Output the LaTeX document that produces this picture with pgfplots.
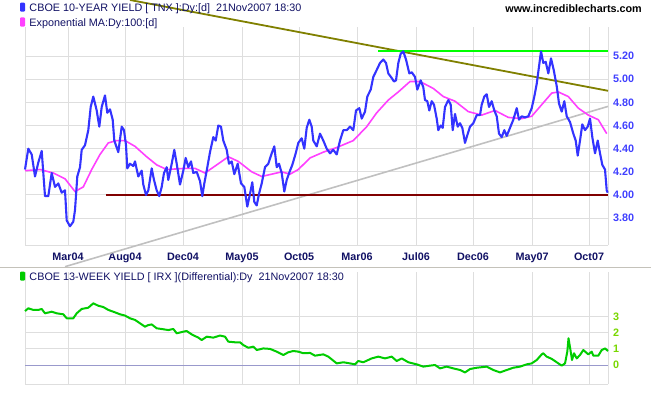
\documentclass[border=0pt]{standalone}
\usepackage{fontspec}
\setmainfont{Liberation Sans}
\usepackage{pgfplots}
\pgfplotsset{compat=1.18}

\definecolor{tnx}{RGB}{51,51,255}
\definecolor{ema}{RGB}{255,64,255}
\definecolor{trendolive}{RGB}{128,128,0}
\definecolor{trendlime}{RGB}{0,255,0}
\definecolor{trendmaroon}{RGB}{128,0,0}
\definecolor{trendsilver}{RGB}{192,192,192}
\definecolor{irx}{RGB}{0,204,0}
\definecolor{zeroln}{RGB}{153,153,204}
\definecolor{gridc}{RGB}{222,222,222}
\definecolor{navytxt}{RGB}{16,16,100}
\definecolor{ylab}{RGB}{64,64,255}
\definecolor{ylabtwo}{RGB}{120,215,0}

\pgfplotstableread{
x y
25 4.22
28.3 4.40
31.7 4.35
35 4.16
38.3 4.28
41.7 4.38
45 3.99
48.3 3.99
51.7 4.19
55 4.07
58.3 4.10
61.7 4.02
65 4.04
66.7 3.78
70 3.73
73.3 3.77
75 3.87
77.3 4.16
80 4.24
81.7 4.39
85 4.43
88.3 4.56
90.7 4.76
93.3 4.85
96.7 4.73
99.3 4.59
101.7 4.76
105 4.86
107.3 4.71
110 4.74
112.7 4.65
114.3 4.47
118.3 4.37
121.7 4.59
124 4.56
126 4.43
127.3 4.23
130 4.27
133.3 4.25
135 4.29
138.3 4.16
141.7 4.21
143.3 4.09
146 4.00
148.3 4.04
151.7 4.23
154 4.13
156.7 4.04
159.3 3.99
161.7 4.07
164 4.19
166.7 4.24
168.3 4.13
171.7 4.27
174.3 4.39
176.7 4.27
180 4.09
183.3 4.21
185.7 4.32
188.3 4.24
191 4.29
193.3 4.19
196.7 4.20
200 4.12
202.3 3.99
204.3 4.10
206.7 4.21
210 4.37
213.3 4.50
215.7 4.47
218.3 4.60
221 4.59
223.3 4.47
226.7 4.39
229 4.27
231.7 4.29
234.3 4.18
237.7 4.27
241 4.10
244.3 4.07
247.3 3.90
250 4.01
252.3 4.11
254.3 3.94
256.7 3.91
259 4.01
261.7 4.10
265 4.24
268.3 4.27
271.7 4.36
274.3 4.42
276.7 4.24
279 4.27
281.7 4.19
284.3 4.03
286.7 4.13
290 4.21
292.3 4.26
295.7 4.36
298.3 4.45
301.7 4.49
304.3 4.40
306.7 4.58
309.3 4.65
311.7 4.59
313.3 4.47
316.7 4.42
320 4.53
323.3 4.47
326.7 4.40
330 4.36
333.3 4.39
336.7 4.35
340 4.47
343.3 4.56
346.7 4.56
350 4.59
353.3 4.56
356 4.73
359.3 4.75
361.7 4.66
365 4.72
367.3 4.85
370.7 4.91
373.3 5.02
376.7 5.08
380 5.14
383.3 5.17
386 5.14
388.3 5.05
391.7 5.01
394 4.98
396 4.99
398.3 5.14
400.7 5.22
403.3 5.24
406 5.17
409.3 5.05
411.7 5.06
415 5.02
417.3 4.91
420.7 4.99
423.3 4.93
425 4.82
427.3 4.81
429.3 4.73
431.7 4.81
434 4.78
436.7 4.66
438.3 4.56
440.7 4.60
442.7 4.58
445 4.76
448.3 4.82
450.7 4.78
452.7 4.56
455 4.70
457.7 4.59
460 4.62
462.3 4.58
465 4.45
466.7 4.50
470 4.59
473.3 4.62
476.7 4.69
480 4.69
481.7 4.78
484.3 4.85
486.7 4.87
489 4.76
491.7 4.81
494.3 4.73
496.7 4.68
499 4.53
501.7 4.50
504.3 4.56
506.7 4.51
510 4.58
513.3 4.65
516.7 4.75
519 4.65
521.7 4.68
525 4.67
528.3 4.68
531.7 4.75
534.3 4.85
536.7 4.96
539 5.11
541 5.24
543.3 5.14
545.7 5.15
548.3 5.05
551 5.18
553.7 5.08
556.7 4.94
559 4.79
561.7 4.72
564.3 4.81
566.7 4.68
570 4.63
573.3 4.53
575.7 4.47
577.7 4.34
580 4.47
582.3 4.61
585 4.56
587.7 4.59
590 4.66
592.3 4.50
595 4.36
597.7 4.47
600 4.36
602.3 4.26
605 4.22
606.7 4.04
607.7 4.02
}\tnxdata

\pgfplotstableread{
x y
25 4.21
40 4.22
53.3 4.19
65 4.14
75 4.03
83.3 4.07
91.7 4.22
100 4.35
108.3 4.45
116.7 4.47
125 4.47
135 4.42
146.7 4.33
156.7 4.26
166.7 4.22
185 4.23
195 4.23
205 4.19
216.7 4.26
228.3 4.33
238.3 4.29
251.7 4.20
261.7 4.16
271.7 4.18
281.7 4.20
290 4.18
298.3 4.22
310 4.32
323.3 4.37
336.7 4.41
353.3 4.47
366.7 4.59
376.7 4.71
388.3 4.82
398.3 4.89
410 4.98
420 4.98
433.3 4.92
443.3 4.85
455 4.81
468.3 4.72
481.7 4.69
495 4.73
508.3 4.67
521.7 4.66
531.7 4.68
541.7 4.78
551.7 4.88
558.3 4.89
568.3 4.85
578.3 4.75
588.3 4.69
598.3 4.65
606.7 4.53
}\emadata

\pgfplotstableread{
x y
25 3.35
28.3 3.52
33.3 3.42
38.3 3.42
41.7 3.48
45 3.21
51.7 3.31
56.7 3.21
63.3 3.15
66.7 2.90
73.3 2.90
76.7 3.21
81.7 3.48
88.3 3.56
93.3 3.83
98.3 3.68
103.3 3.60
108.3 3.42
113.3 3.31
120 3.15
125 3.07
130 2.90
135 2.80
140 2.59
145 2.38
148.3 2.48
151.7 2.52
156.7 2.28
163.3 2.22
168.3 2.17
173.3 2.24
176.7 1.97
183.3 2.07
186.7 2.11
191.7 1.90
198.3 1.70
201.7 1.55
206.7 1.76
213.3 1.70
220 1.83
225 1.76
228.3 1.45
235 1.41
240 1.41
243.3 1.24
248.3 1.07
253.3 1.14
256.7 0.93
263.3 1.03
270 1.00
276.7 0.83
283.3 0.62
288.3 0.79
293.3 0.87
298.3 0.83
303.3 0.73
310 0.75
315 0.58
323.3 0.66
328.3 0.52
336.7 0.10
343.3 0.17
350 0.10
355 0.04
358.3 0.25
363.3 0.17
371.7 0.41
378.3 0.52
385 0.41
391.7 0.52
396.7 0.25
401.7 0.41
408.3 0.17
416.7 0.04
423.3 -0.10
430 -0.04
435 0.0
440 -0.21
446.7 -0.10
453.3 -0.21
460 -0.31
465 -0.46
470 -0.25
476.7 -0.17
486.7 -0.10
493.3 -0.31
500 -0.46
506.7 -0.31
513.3 -0.17
520 -0.10
526.7 0.04
531.7 0.10
536.7 0.31
541.7 0.66
543.3 0.73
546.7 0.52
551.7 0.38
556.7 0.17
561.7 -0.04
565 0.10
567.3 0.83
568.5 1.66
570.7 0.83
572 0.31
574 0.73
576.7 0.41
580 0.62
583.3 0.93
588.3 0.66
591.7 0.83
593.3 0.58
598.3 0.58
601.7 0.93
605 1.03
608 0.87
}\irxdata

\pgfplotsset{
  chartbase/.style={
    scale only axis, width=583bp,
    xmin=25, xmax=608,
    axis x line*=bottom, axis y line*=right,
    axis line style={gridc, line width=1bp},
    xtick={25,68,125,183,242,299,357,416,473,532,589},
    grid=major, major grid style={gridc, line width=1bp},
    major tick length=0pt,
    tick label style={font=\fontsize{10.8bp}{12bp}\selectfont\bfseries},
    yticklabel style={anchor=west, inner sep=0pt, xshift=5bp},
    clip=false,
  }
}

\begin{document}
\begin{tikzpicture}[x=1bp,y=1bp]
\path[use as bounding box] (0,0) rectangle (651,395);

% ---------- upper panel ----------
\begin{axis}[chartbase,
  at={(25bp,150bp)}, anchor=south west, height=218bp,
  ymin=3.5682, ymax=5.4508,
  xticklabels={,Mar04,Aug04,Dec04,May05,Oct05,Mar06,Jul06,Dec06,May07,Oct07},
  xticklabel style={navytxt, anchor=base, inner sep=0pt, yshift=-15.7bp},
  ytick={3.8,4.0,4.2,4.4,4.6,4.8,5.0,5.2},
  yticklabels={3.80,4.00,4.20,4.40,4.60,4.80,5.00,5.20},
  yticklabel style={ylab},
]
\addplot[trendsilver, line width=1.6bp] coordinates {(65,3.381) (608,4.765)};
\addplot[trendolive, line width=1.8bp] coordinates {(130,5.684) (608,4.900)};
\addplot[trendlime, line width=2bp] coordinates {(378,5.245) (608,5.245)};
\addplot[trendmaroon, line width=2bp] coordinates {(106,4.00) (608,4.00)};
\addplot[ema, line width=1.6bp] table[x=x,y=y] {\emadata};
\addplot[tnx, line width=2.1bp, line join=round] table[x=x,y=y] {\tnxdata};
\end{axis}

% separator
\draw[line width=1.5bp, color={rgb,255:red,196;green,194;blue,186}] (0,127.5) -- (651,127.5);

% ---------- lower panel ----------
\begin{axis}[chartbase,
  at={(25bp,11bp)}, anchor=south west, height=112bp,
  ymin=-1.18, ymax=5.776,
  xticklabels={},
  ytick={0,1,2,3},
  yticklabels={0,1,2,3},
  yticklabel style={ylabtwo},
]
\addplot[zeroln, line width=1bp] coordinates {(25,0) (608,0)};
\addplot[irx, line width=2bp, line join=round] table[x=x,y=y] {\irxdata};
\end{axis}

% ---------- legends and labels ----------
\fill[tnx, rounded corners=1bp] (20,383.3) rectangle (25,392.3);
\fill[ema, rounded corners=1bp] (20,368.3) rectangle (25,377.7);
\fill[irx, rounded corners=1bp] (20,114.3) rectangle (25,123.3);

\node[anchor=base west, inner sep=0pt, navytxt, font=\fontsize{10.8bp}{12bp}\selectfont]
  at (29.3,383.3) {CBOE 10-YEAR YIELD [ TNX ]:Dy:[d]\ \ 21Nov2007 18:30};
\node[anchor=base west, inner sep=0pt, navytxt, font=\fontsize{10.8bp}{12bp}\selectfont]
  at (29.3,369) {Exponential MA:Dy:100:[d]};
\node[anchor=base west, inner sep=0pt, navytxt, font=\fontsize{10.8bp}{12bp}\selectfont]
  at (29.3,114.3) {CBOE 13-WEEK YIELD [ IRX ](Differential):Dy\ \ 21Nov2007 18:30};
\node[anchor=base east, inner sep=0pt, black, font=\fontsize{10.8bp}{12bp}\selectfont\bfseries]
  at (642,382.7) {www.incrediblecharts.com};
\end{tikzpicture}
\end{document}
